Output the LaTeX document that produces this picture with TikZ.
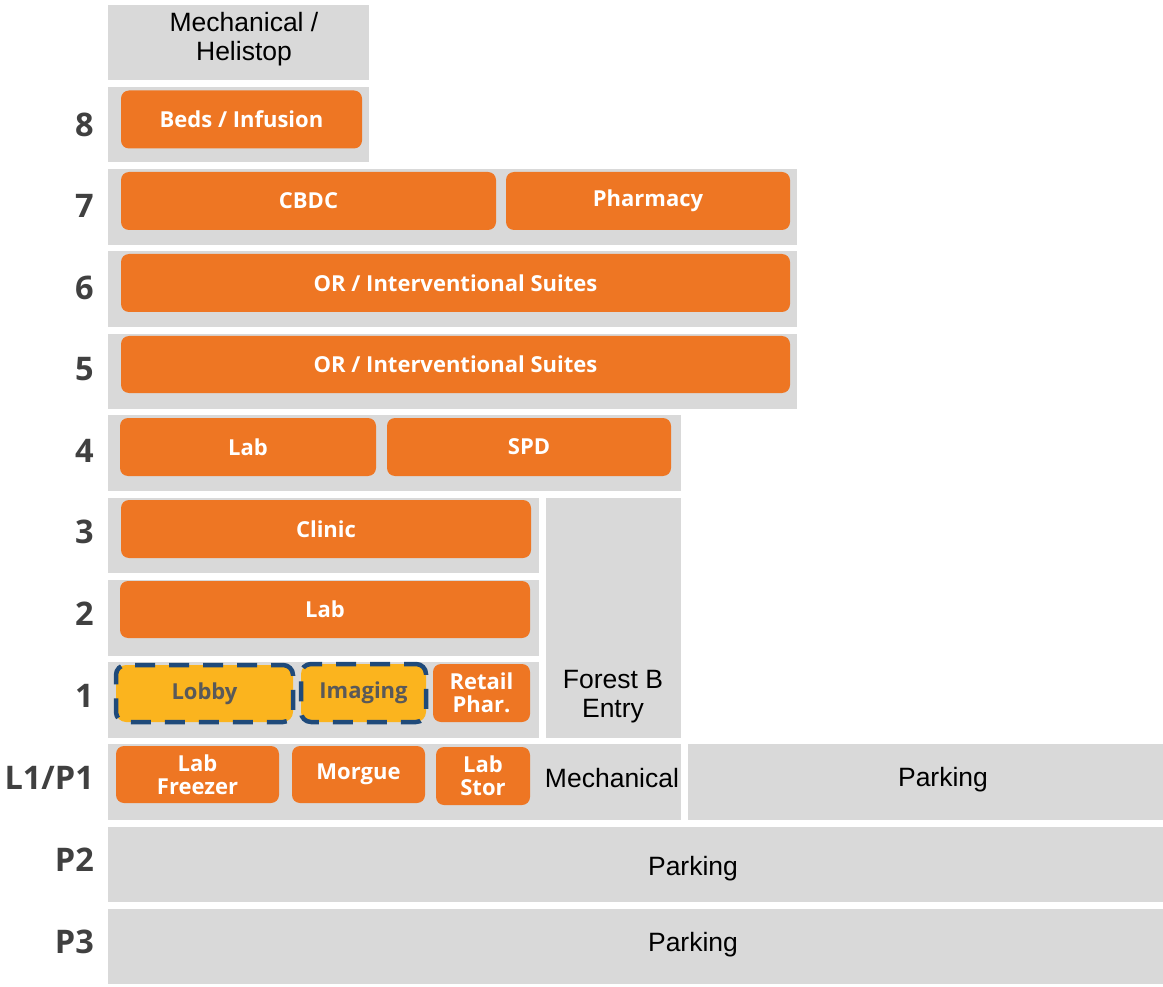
\documentclass[tikz,border=0pt]{standalone}
\usepackage{fontspec}
\setmainfont{Liberation Sans}
\newfontfamily\osans{Open Sans}
\definecolor{floorgray}{HTML}{D9D9D9}
\definecolor{deptorange}{HTML}{EE7623}
\definecolor{publicyellow}{HTML}{FBB41E}
\definecolor{dashblue}{HTML}{1F4A7A}
\definecolor{numgray}{HTML}{404040}
\definecolor{publictext}{HTML}{595959}
\begin{document}
\begin{tikzpicture}[x=1pt,y=-1pt]
\tikzstyle{floor}=[fill=floorgray,inner sep=0pt]
\tikzstyle{dept}=[fill=deptorange,rounded corners=8pt,text=white,inner sep=0pt,align=center,font=\osans\bfseries\fontsize{22}{23}\selectfont]
\tikzstyle{public}=[dept,rounded corners=10pt,fill=publicyellow,text=publictext,draw=dashblue,line width=4.5pt,dash pattern=on 20pt off 14pt,dash phase=8pt]
\tikzstyle{floornum}=[anchor=east,text=numgray,inner sep=0pt,font=\osans\bfseries\fontsize{32.5}{33}\selectfont]
\tikzstyle{plain}=[inner sep=0pt,align=center,font=\fontsize{26.5}{29}\selectfont]
\useasboundingbox (0,0) rectangle (1163,987);
% floor plates
\node[floor,minimum width=261,minimum height=75] (roof) at (238.5,42.5) {};
\node[floor,minimum width=261,minimum height=75] (f8) at (238.5,124.5) {};
\node[floor,minimum width=689,minimum height=76] (f7) at (452.5,207) {};
\node[floor,minimum width=689,minimum height=76] (f6) at (452.5,289) {};
\node[floor,minimum width=689,minimum height=75] (f5) at (452.5,371.5) {};
\node[floor,minimum width=573,minimum height=76] (f4) at (394.5,453) {};
\node[floor,minimum width=431,minimum height=75] (f3) at (323.5,535.5) {};
\node[floor,minimum width=431,minimum height=76] (f2) at (323.5,618) {};
\node[floor,minimum width=431,minimum height=76] (f1) at (323.5,700) {};
\node[floor,minimum width=135,minimum height=240] (forest) at (613.5,618) {};
\node[floor,minimum width=573,minimum height=76] (l1) at (394.5,782) {};
\node[floor,minimum width=475,minimum height=76] (l1park) at (925.5,782) {};
\node[floor,minimum width=1055,minimum height=75] (p2) at (635.5,864.5) {};
\node[floor,minimum width=1055,minimum height=75] (p3) at (635.5,946.5) {};
% plain texts
\node[plain] (roofname) at (244,39.5) {Mechanical /\\Helistop};
\node[plain] (forestname) at (613,696.5) {Forest B\\Entry};
\node[plain] (l1mech) at (612,778) {Mechanical};
\node[plain] (l1parkname) at (943,780) {Parking};
\node[plain] (p2name) at (693,868.5) {Parking};
\node[plain] (p3name) at (693,944.5) {Parking};
% departments
\node[dept,minimum width=241,minimum height=58] (beds) at (241.5,119.5) {Beds / Infusion};
\node[dept,minimum width=375,minimum height=58] (cbdc) at (308.5,201) {CBDC};
\node[dept,minimum width=284,minimum height=58] (pharmacy) at (648,201) {Pharmacy};
\node[dept,minimum width=669,minimum height=58] (or6) at (455.5,283) {OR / Interventional Suites};
\node[dept,minimum width=669,minimum height=57] (or5) at (455.5,364.5) {OR / Interventional Suites};
\node[dept,minimum width=256,minimum height=58] (lab4) at (248,447) {Lab};
\node[dept,minimum width=284,minimum height=58] (spd) at (529,447) {SPD};
\node[dept,minimum width=410,minimum height=58] (clinic) at (326,529) {Clinic};
\node[dept,minimum width=410,minimum height=57] (lab2) at (325,609.5) {Lab};
\node[public,minimum width=177,minimum height=57] (lobby) at (204.5,693.5) {Lobby};
\node[public,minimum width=125,minimum height=58] (imaging) at (363.5,693) {Imaging};
\node[dept,minimum width=97,minimum height=58] (retail) at (481.5,693) {Retail\\Phar.};
\node[dept,minimum width=163,minimum height=57] (freezer) at (197.5,774.5) {Lab\\Freezer};
\node[dept,minimum width=133,minimum height=57] (morgue) at (358.5,774.5) {Morgue};
\node[dept,minimum width=94,minimum height=58] (labstor) at (483,776) {Lab\\Stor};
% level numbers
\node[floornum] (n8) at (94,125) {8};
\node[floornum] (n7) at (94,206) {7};
\node[floornum] (n6) at (94,288) {6};
\node[floornum] (n5) at (94,369) {5};
\node[floornum] (n4) at (94,451) {4};
\node[floornum] (n3) at (94,532) {3};
\node[floornum] (n2) at (94,614) {2};
\node[floornum] (n1) at (94,696) {1};
\node[floornum] (nl1) at (94,778) {L1/P1};
\node[floornum] (np2) at (94,860) {P2};
\node[floornum] (np3) at (94,942) {P3};
\end{tikzpicture}
\end{document}
